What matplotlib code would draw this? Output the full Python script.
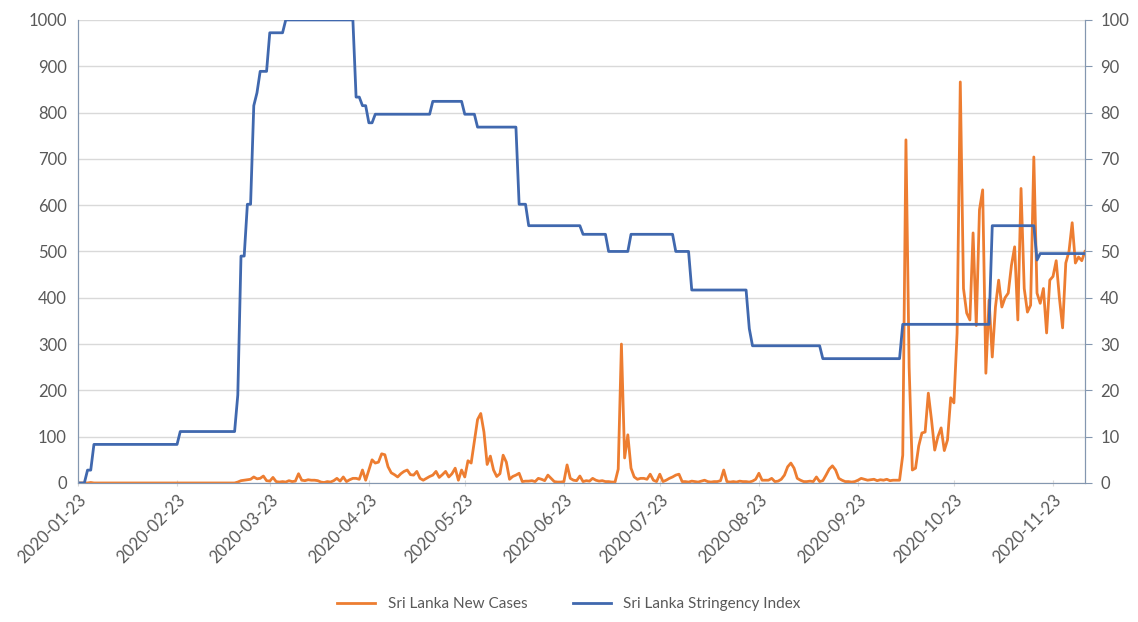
import matplotlib
matplotlib.use("Agg")
import matplotlib.pyplot as plt
import matplotlib.dates as mdates
import numpy as np
import pandas as pd

# daily values, starting 2020-01-23
start_date = "2020-01-23"

new_cases = [
    0, 0, 0, 0, 1, 0, 0, 0, 0, 0,
    0, 0, 0, 0, 0, 0, 0, 0, 0, 0,
    0, 0, 0, 0, 0, 0, 0, 0, 0, 0,
    0, 0, 0, 0, 0, 0, 0, 0, 0, 0,
    0, 0, 0, 0, 0, 0, 0, 0, 0, 0,
    2, 5, 6, 7, 8, 13, 9, 10, 15, 5,
    4, 12, 3, 2, 3, 2, 5, 3, 4, 20,
    6, 5, 7, 6, 6, 5, 2, 1, 3, 2,
    5, 10, 4, 13, 3, 7, 10, 10, 8, 28,
    6, 28, 50, 43, 45, 63, 61, 35, 22, 18,
    13, 20, 25, 28, 18, 17, 25, 10, 6, 10,
    14, 17, 25, 12, 18, 25, 13, 20, 32, 6,
    28, 13, 48, 43, 90, 137, 150, 110, 40, 58,
    28, 14, 20, 60, 45, 8, 14, 17, 21, 3,
    4, 4, 5, 3, 10, 8, 5, 17, 10, 3,
    2, 2, 3, 39, 10, 6, 5, 15, 3, 5,
    4, 10, 6, 4, 5, 3, 3, 2, 2, 30,
    300, 54, 104, 32, 13, 8, 10, 10, 8, 19,
    6, 3, 19, 3, 6, 10, 13, 17, 19, 3,
    3, 2, 4, 3, 2, 4, 6, 3, 2, 3,
    3, 5, 28, 3, 2, 3, 2, 4, 3, 3,
    2, 4, 8, 21, 6, 6, 6, 10, 3, 4,
    8, 17, 35, 43, 32, 10, 6, 3, 3, 4,
    3, 13, 3, 5, 17, 30, 37, 28, 10, 6,
    3, 3, 2, 3, 6, 10, 8, 6, 7, 8,
    5, 7, 6, 8, 5, 6, 6, 6, 60, 741,
    250, 28, 32, 80, 108, 110, 194, 136, 71, 100,
    119, 70, 93, 184, 173, 324, 866, 420, 367, 352,
    540, 340, 590, 633, 237, 395, 272, 380, 438, 380,
    400, 410, 470, 510, 352, 636, 420, 369, 384, 704,
    410, 388, 420, 324, 438, 446, 480, 400, 335, 475,
    500, 562, 475, 488, 480, 500,
]

# stringency index as runs: value, number of days
stringency_values = [0, 2.78, 8.33, 11.11, 19.0, 49.0, 60.19, 81.48, 84.26,
                     88.89, 97.22, 100, 83.33, 81.48, 77.78, 79.63, 82.41,
                     79.63, 76.85, 60.19, 55.56, 53.7, 50.0, 53.7, 50.0,
                     41.67, 33.33, 29.63, 26.85, 34.26, 55.56, 48.15, 49.54]
stringency_days = [3, 2, 27, 18, 1, 2, 2, 1, 1,
                   3, 5, 22, 2, 2, 2, 18, 10,
                   4, 13, 3, 17, 8, 7, 14, 5,
                   18, 1, 22, 25, 28, 14, 1, 15]

dates = pd.date_range(start_date, periods=len(new_cases), freq="D")
stringency = np.repeat(stringency_values, stringency_days)

orange = "#ED7D31"
blue = "#4068AE"
grey_text = "#595959"

plt.rcParams["font.family"] = ["Lato", "DejaVu Sans"]

fig, ax = plt.subplots(figsize=(11.38, 6.22), dpi=100)
fig.subplots_adjust(left=0.0685, right=0.9534, top=0.968, bottom=0.2235)

l1, = ax.plot(dates, new_cases, color=orange, lw=2.0, label="Sri Lanka New Cases")
ax2 = ax.twinx()
l2, = ax2.plot(dates[:len(stringency)], stringency, color=blue, lw=2.0,
               label="Sri Lanka Stringency Index")

ax.set_ylim(0, 1000)
ax.set_yticks(range(0, 1001, 100))
ax2.set_ylim(0, 100)
ax2.set_yticks(range(0, 101, 10))
ax.set_xlim(dates[0], dates[-1])

ax.xaxis.set_major_locator(mdates.MonthLocator(bymonthday=23))
ax.xaxis.set_major_formatter(mdates.DateFormatter("%Y-%m-%d"))
plt.setp(ax.get_xticklabels(), rotation=45, ha="right", rotation_mode="anchor")

ax.grid(axis="y", color="#d9d9d9", lw=1)
ax.set_axisbelow(True)

for a in (ax, ax2):
    a.spines["top"].set_visible(False)
    for s in ("left", "right", "bottom"):
        a.spines[s].set_color("#8497b0")
    a.tick_params(colors=grey_text, labelsize=12)
ax.spines["bottom"].set_color("#d9d9d9")
ax.tick_params(axis="y", length=0, pad=8)
ax.tick_params(axis="x", length=4, color="#d9d9d9", direction="inout", pad=4)
ax2.tick_params(axis="y", length=5, color="#8497b0", pad=6)

fig.legend(handles=[l1, l2], loc="lower center", ncol=2, frameon=False,
           bbox_to_anchor=(0.5, -0.005), fontsize=11, labelcolor=grey_text,
           handlelength=2.5, columnspacing=3)

fig.savefig("out.png", dpi=100)
